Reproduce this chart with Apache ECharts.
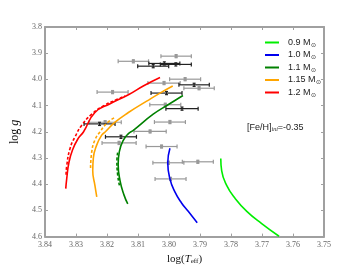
<!DOCTYPE html>
<html><head><meta charset="utf-8">
<script src="https://cdn.jsdelivr.net/npm/echarts@6/dist/echarts.min.js"></script>
<style>html,body{margin:0;padding:0;background:#fff}#c{width:360px;height:270px}</style>
</head><body><div id="c"></div>
<script>
// ---- data ----
const xTicks = [3.75, 3.84];
const yTicks = [3.8, 4.6];
const massLabels = ['0.9', '1.0', '1.1', '1.15', '1.2'];

const track09 = [[3.7833,4.3019],[3.7830,4.3490],[3.7814,4.4046],[3.7787,4.4539],[3.7749,4.5036],[3.7701,4.5504],[3.7645,4.5986]];
const track10 = [[3.7997,4.2625],[3.8004,4.3182],[3.7997,4.3798],[3.7981,4.4295],[3.7959,4.4725],[3.7938,4.5036],[3.7909,4.5467]];
const track11 = [[3.8133,4.4751],[3.8145,4.4417],[3.8158,4.3861],[3.8164,4.3241],[3.8160,4.2748],[3.8147,4.2314],[3.8131,4.2069],[3.8115,4.1943],[3.8051,4.1327],[3.8003,4.0967],[3.7955,4.0615]];
const track115 = [[3.8233,4.4480],[3.8239,4.4046],[3.8246,4.3490],[3.8244,4.2996],[3.8233,4.2499],[3.8217,4.2128],[3.8206,4.2006],[3.8174,4.1635],[3.8131,4.1264],[3.8072,4.0830],[3.8029,4.0522],[3.7988,4.0251]];
const track12 = [[3.8333,4.4168],[3.8330,4.3798],[3.8323,4.3182],[3.8311,4.2685],[3.8293,4.2254],[3.8276,4.2006],[3.8239,4.1264],[3.8190,4.0930],[3.8131,4.0585],[3.8083,4.0251],[3.8029,3.9929]];

const track11b = [[3.8160,4.4046],[3.8166,4.3600],[3.8168,4.3120],[3.8165,4.2750]];
const track115b = [[3.8253,4.3378],[3.8249,4.2748],[3.8239,4.2314],[3.8223,4.2006],[3.8197,4.1635],[3.8174,4.1450]];
const track12b = [[3.8332,4.3638],[3.8330,4.3304],[3.8319,4.2625],[3.8303,4.2191],[3.8282,4.1757],[3.8249,4.1327],[3.8212,4.1016],[3.8169,4.0771],[3.8142,4.0633]];

// stars: [logTeff, logg, err logTeff, err logg]
const starsA = [
 [3.8115,3.9309,0.0049,0.006],[3.7977,3.9113,0.0049,0.006],[3.7948,3.9992,0.005,0.006],
 [3.8016,4.0140,0.0052,0.006],[3.7903,4.0337,0.0049,0.006],[3.8182,4.0485,0.005,0.006],
 [3.8012,4.0967,0.005,0.006],[3.7997,4.1628,0.005,0.006],[3.8061,4.1987,0.0052,0.006],
 [3.8206,4.1635,0.0052,0.006],[3.8161,4.2425,0.0055,0.006],[3.8024,4.2562,0.005,0.006],
 [3.8002,4.3182,0.005,0.006],[3.7995,4.3798,0.005,0.006],[3.7907,4.3145,0.005,0.006]
];
const starsB = [
 [3.8051,3.9495,0.005,0.006],[3.8015,3.9391,0.005,0.006],[3.7978,3.9428,0.005,0.006],
 [3.7919,4.0207,0.0049,0.006],[3.8008,4.0522,0.005,0.006],[3.7958,4.1116,0.0052,0.006],
 [3.8224,4.1698,0.005,0.006],[3.8155,4.2191,0.005,0.006]
];
const metallicity = '-0.35';

// ---- chart ----
const colors = ['#00ee00','#0000ee','#008000','#ffa500','#ff0000'];
const tracks = [track09, track10, track11, track115, track12];
const dashed = [[2, track11b],[3, track115b],[4, track12b]];

function ebRender(color, box) {
  return function (params, api) {
    const x = api.value(0), y = api.value(1), ex = api.value(2), ey = api.value(3);
    const c = api.coord([x, y]);
    const l = api.coord([x - ex, y]), r = api.coord([x + ex, y]);
    const t = api.coord([x, y - ey]), b = api.coord([x, y + ey]);
    const st = { stroke: color, lineWidth: 1.2 };
    const ch = [
      { type: 'line', shape: { x1: l[0], y1: c[1], x2: r[0], y2: c[1] }, style: st },
      { type: 'line', shape: { x1: l[0], y1: c[1] - 2, x2: l[0], y2: c[1] + 2 }, style: st },
      { type: 'line', shape: { x1: r[0], y1: c[1] - 2, x2: r[0], y2: c[1] + 2 }, style: st },
      { type: 'line', shape: { x1: c[0], y1: t[1], x2: c[0], y2: b[1] }, style: st },
      { type: 'line', shape: { x1: c[0] - 1.5, y1: t[1], x2: c[0] + 1.5, y2: t[1] }, style: st },
      { type: 'line', shape: { x1: c[0] - 1.5, y1: b[1], x2: c[0] + 1.5, y2: b[1] }, style: st }
    ];
    if (box) ch.push({ type: 'rect', shape: { x: c[0] - 1.5, y: c[1] - 1.5, width: 3, height: 3 }, style: { fill: color } });
    return { type: 'group', children: ch };
  };
}

const series = [];
tracks.forEach((d, i) => {
  series.push({ name: massLabels[i] + ' M{s|⊙}', type: 'line', data: d, smooth: true, showSymbol: false,
    lineStyle: { color: colors[i], width: 1.6 }, itemStyle: { color: colors[i] }, z: 3 });
});
dashed.forEach(([i, d]) => {
  series.push({ name: 'd' + i, type: 'line', data: d, smooth: true, showSymbol: false,
    lineStyle: { color: colors[i], width: 1.6, type: [3, 2] }, z: 3 });
});
series.push({ type: 'custom', name: 'A', data: starsA, encode: { x: 0, y: 1 }, renderItem: ebRender('#999999', true), z: 2 });
series.push({ type: 'custom', name: 'B', data: starsB, encode: { x: 0, y: 1 }, renderItem: ebRender('#222222', false), z: 2 });

const axLine = { lineStyle: { color: '#a0a0a0', width: 2 } };
const tick = { inside: true, length: 3, lineStyle: { color: '#a0a0a0', width: 1 } };
const lbl = { fontFamily: 'Liberation Serif', fontSize: 8, color: '#666' };

const chart = echarts.init(document.getElementById('c'), null, { renderer: 'canvas' });
chart.setOption({
  animation: false,
  grid: { left: 45, right: 36, top: 27, bottom: 27 },
  legend: {
    data: tracks.map((d, i) => massLabels[i] + ' M{s|⊙}'),
    orient: 'vertical', left: 260, top: 32, itemWidth: 14, itemHeight: 2, itemGap: 1.5,
    icon: 'rect',
    textStyle: { fontFamily: 'Liberation Sans', fontSize: 9, color: '#222', lineHeight: 11, padding: [0, 0, 0, 4],
      rich: { s: { fontSize: 6, verticalAlign: 'bottom', padding: [4, 0, 0, 0], color: '#222', lineHeight: 11 } } }
  },
  xAxis: [
    { type: 'value', inverse: true, min: xTicks[0], max: xTicks[1], interval: 0.01, position: 'bottom',
      axisLine: axLine, axisTick: tick, splitLine: { show: false },
      axisLabel: Object.assign({ margin: 4, formatter: v => v.toFixed(2) }, lbl),
      name: 'log({i|T}{s|eff})', nameLocation: 'middle', nameGap: 13,
      nameTextStyle: { fontFamily: 'Liberation Serif', fontSize: 11, color: '#111',
        rich: { i: { fontStyle: 'italic', fontFamily: 'Liberation Serif', fontSize: 11, color: '#111' },
                s: { fontFamily: 'Liberation Serif', fontSize: 7, color: '#111', verticalAlign: 'bottom', padding: [5, 0, 0, 0] } } } },
    { type: 'value', inverse: true, min: xTicks[0], max: xTicks[1], interval: 0.01, position: 'top',
      axisLine: axLine, axisTick: tick, splitLine: { show: false }, axisLabel: { show: false } }
  ],
  yAxis: [
    { type: 'value', inverse: true, min: yTicks[0], max: yTicks[1], interval: 0.1, position: 'left',
      axisLine: axLine, axisTick: tick, splitLine: { show: false },
      axisLabel: Object.assign({ margin: 3, formatter: v => v.toFixed(1) }, lbl),
      name: 'log {i|g}', nameLocation: 'middle', nameGap: 19, nameRotate: 90,
      nameTextStyle: { fontFamily: 'Liberation Serif', fontSize: 12, color: '#111',
        rich: { i: { fontStyle: 'italic', fontFamily: 'Liberation Serif', fontSize: 12, color: '#111' } } } },
    { type: 'value', inverse: true, min: yTicks[0], max: yTicks[1], interval: 0.1, position: 'right',
      axisLine: axLine, axisTick: tick, splitLine: { show: false }, axisLabel: { show: false } }
  ],
  graphic: [{
    type: 'text', left: 247, top: 123,
    style: { text: '[Fe/H]{s|ini}=' + metallicity, font: '9px "Liberation Sans"', fill: '#222',
      rich: { s: { fontStyle: 'italic', fontSize: 6, fontFamily: 'Liberation Serif', verticalAlign: 'bottom', padding: [4, 0, 0, 0], fill: '#222' } } }
  }],
  series: series
});
</script></body></html>
